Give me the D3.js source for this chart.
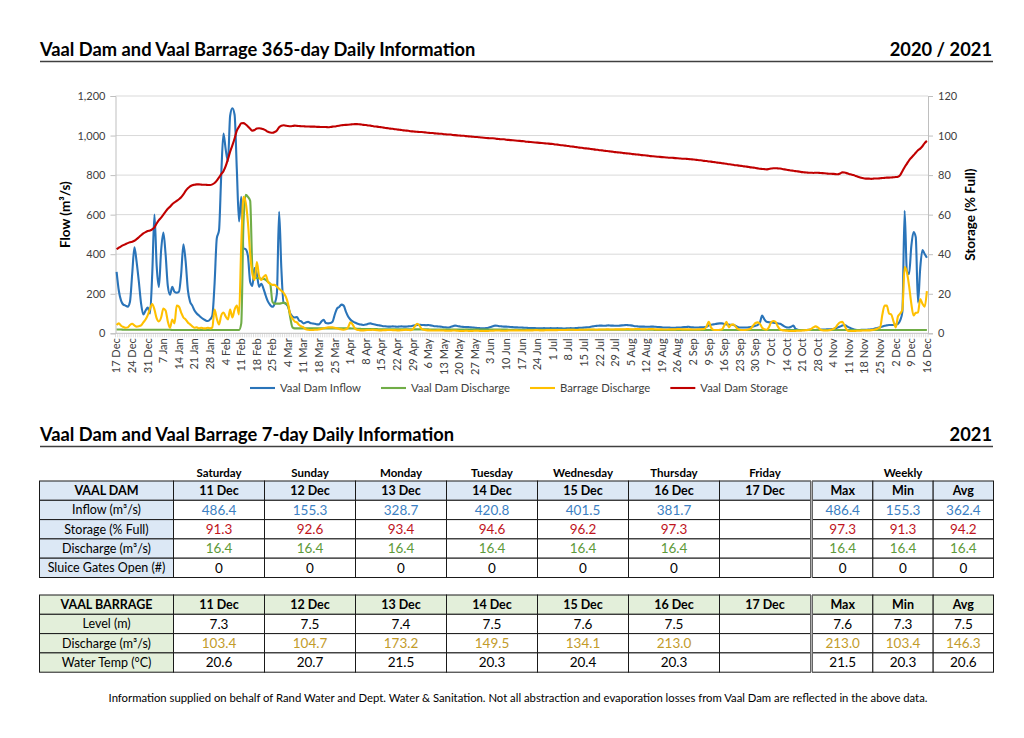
<!DOCTYPE html>
<html>
<head>
<meta charset="utf-8">
<script src="https://cdn.jsdelivr.net/npm/d3@7"></script>
<style>
    body { margin: 0; background: #fff; }
    text { font-family: Lato, "Open Sans", sans-serif; }
</style>
</head>
<body>
<div id="page"></div>
<script>
// ---------- 365-day series (17 Dec 2020 - 16 Dec 2021) ----------
const inflow = [
    // Dec 17-31
    311, 215, 165, 145, 140, 135, 160, 300, 435, 360, 260, 150, 95, 115, 130,
    // Jan
    100, 300, 600, 340, 235, 420, 510, 400, 240, 195, 235, 210, 205, 210, 300, 450, 365, 220, 160, 140, 115, 100, 90, 80, 72, 65, 62, 70, 90, 250, 480,
    // Feb
    520, 800, 1010, 930, 870, 1100, 1138, 1105, 830, 565, 690, 430, 425, 390, 260, 240, 330, 300, 235, 250, 225, 190, 160, 143, 134, 150, 200, 615,
    // Mar
    330, 155, 150, 135, 100, 85, 80, 82, 65, 60, 50, 55, 58, 52, 50, 48, 45, 45, 60, 68, 52, 50, 52, 58, 95, 125, 133, 145, 140, 110, 85,
    // Apr
    70, 60, 55, 50, 46, 44, 42, 44, 48, 50, 47, 45, 42, 40, 38, 36, 35, 34, 34, 35, 34, 33, 34, 35, 34, 34, 35, 36, 38, 40,
    // May
    42, 43, 42, 42, 41, 42, 40, 38, 36, 35, 34, 33, 31, 30, 29, 32, 36, 39, 37, 35, 33, 32, 31, 31, 30, 29, 28, 27, 26, 25, 25,
    // Jun
    26, 28, 32, 36, 39, 38, 36, 35, 34, 34, 33, 32, 31, 30, 30, 29, 29, 28, 28, 27, 27, 26, 26, 25, 25, 25, 26, 25, 25, 26,
    // Jul
    25, 25, 26, 25, 25, 24, 25, 25, 26, 25, 26, 27, 28, 28, 29, 30, 31, 33, 35, 37, 38, 39, 39, 38, 39, 40, 39, 39, 38, 38, 39,
    // Aug
    40, 41, 42, 41, 40, 38, 36, 35, 34, 34, 34, 33, 33, 34, 34, 33, 32, 31, 30, 29, 29, 29, 28, 28, 28, 29, 29, 30, 31, 32, 33,
    // Sep
    30, 30, 29, 29, 30, 30, 31, 33, 40, 43, 45, 47, 49, 50, 50, 47, 45, 44, 43, 42, 38, 32, 29, 29, 29, 29, 30, 32, 34, 38,
    // Oct
    42, 55, 90, 70, 58, 56, 55, 54, 52, 50, 48, 42, 35, 30, 29, 33, 39, 22, 18, 17, 17, 17, 17, 18, 18, 17, 17, 18, 18, 19, 19,
    // Nov
    20, 20, 21, 22, 25, 30, 34, 40, 42, 36, 30, 25, 20, 18, 17, 17, 18, 18, 18, 19, 20, 22, 25, 28, 30, 34, 38, 40, 42, 42,
    // Dec 1-16
    42, 44, 48, 65, 110, 620, 315, 300, 440, 512, 486.4, 155.3, 328.7, 420.8, 401.5, 381.7
];

const damDischarge = [
    // Dec 17-31
    19, 19, 19, 18, 18, 18, 18, 18, 18, 18, 18, 18, 18, 18, 18,
    // Jan
    18, 18, 18, 18, 18, 18, 18, 18, 18, 18, 17, 17, 17, 17, 17, 17, 17, 17, 17, 17, 17, 17, 17, 17, 17, 17, 17, 17, 17, 17, 17,
    // Feb
    17, 17, 17, 17, 17, 17, 17, 17, 17, 17, 50, 560, 700, 690, 670, 330, 285, 280, 280, 275, 275, 270, 260, 250, 160, 150, 150, 150,
    // Mar
    152, 155, 150, 140, 80, 30, 25, 25, 25, 25, 25, 25, 25, 25, 25, 25, 25, 25, 25, 25, 25, 25, 25, 25, 25, 25, 25, 25, 25, 25, 25,
    // Apr
    25, 24, 24, 23, 23, 22, 22, 22, 21, 21, 21, 21, 21, 20, 20, 20, 20, 20, 20, 20, 20, 20, 20, 20, 20, 20, 20, 20, 20, 20,
    // May
    20, 20, 20, 20, 20, 20, 19, 19, 19, 19, 19, 19, 19, 19, 19, 19, 19, 19, 19, 19, 19, 19, 19, 19, 19, 19, 19, 19, 19, 19, 19,
    // Jun
    19, 19, 19, 19, 19, 19, 19, 19, 19, 19, 18, 18, 18, 18, 18, 18, 18, 18, 18, 18, 18, 18, 18, 18, 18, 18, 18, 18, 18, 18,
    // Jul
    18, 18, 18, 18, 18, 18, 18, 18, 18, 18, 18, 18, 18, 18, 18, 18, 18, 18, 18, 18, 18, 18, 18, 18, 18, 18, 18, 18, 18, 18, 18,
    // Aug
    18, 18, 18, 18, 18, 18, 18, 18, 18, 18, 18, 18, 18, 18, 18, 17, 17, 17, 17, 17, 17, 17, 17, 17, 17, 17, 17, 17, 17, 17, 17,
    // Sep
    17, 17, 17, 17, 17, 17, 17, 17, 17, 17, 17, 17, 17, 17, 17, 17, 17, 17, 17, 17, 17, 17, 17, 17, 17, 17, 17, 17, 17, 17,
    // Oct
    17, 17, 17, 17, 17, 17, 17, 17, 17, 17, 17, 17, 17, 17, 17, 17, 17, 17, 17, 17, 17, 17, 17, 17, 17, 17, 17, 17, 17, 17, 17,
    // Nov
    17, 17, 17, 17, 17, 17, 17, 17, 17, 17, 17, 17, 17, 17, 16.4, 16.4, 16.4, 16.4, 16.4, 16.4, 16.4, 16.4, 16.4, 16.4, 16.4, 16.4, 16.4, 16.4, 16.4, 16.4,
    // Dec 1-16
    16.4, 16.4, 16.4, 16.4, 16.4, 16.4, 16.4, 16.4, 16.4, 16.4, 16.4, 16.4, 16.4, 16.4, 16.4, 16.4
];

const barrageDischarge = [
    // Dec 17-31
    42, 50, 38, 32, 28, 30, 42, 48, 40, 34, 36, 40, 55, 70, 92,
    // Jan
    125, 148, 120, 75, 60, 80, 125, 115, 60, 28, 70, 50, 140, 135, 105, 80, 70, 55, 45, 35, 28, 30, 25, 28, 25, 25, 28, 25, 30, 120, 75,
    // Feb
    45, 90, 105, 85, 70, 120, 80, 120, 140, 95, 450, 690, 660, 560, 400, 300, 270, 360, 290, 270, 285, 295, 260, 250, 245, 245, 235, 225,
    // Mar
    215, 205, 185, 150, 95, 75, 60, 55, 42, 35, 30, 20, 18, 17, 17, 18, 18, 20, 22, 25, 28, 30, 30, 30, 28, 25, 22, 20, 18, 20, 30,
    // Apr
    55, 45, 25, 18, 16, 15, 15, 16, 17, 17, 18, 17, 16, 15, 15, 16, 16, 17, 17, 16, 16, 15, 15, 16, 17, 18, 17, 16, 20, 35,
    // May
    48, 40, 22, 18, 16, 15, 15, 14, 14, 15, 15, 14, 14, 13, 13, 13, 14, 14, 13, 12, 12, 12, 13, 12, 12, 12, 13, 13, 12, 12, 12,
    // Jun
    12, 12, 13, 13, 14, 14, 14, 13, 13, 13, 14, 14, 14, 15, 15, 14, 14, 14, 15, 15, 15, 15, 16, 16, 15, 15, 15, 16, 16, 16,
    // Jul
    16, 16, 16, 17, 17, 17, 17, 18, 18, 18, 17, 17, 18, 18, 18, 18, 19, 19, 19, 18, 18, 19, 19, 19, 20, 20, 19, 19, 20, 20, 20,
    // Aug
    20, 20, 21, 21, 20, 20, 21, 21, 21, 20, 20, 20, 21, 21, 21, 20, 20, 20, 20, 19, 19, 20, 20, 20, 20, 21, 21, 20, 20, 20, 20,
    // Sep
    20, 19, 19, 20, 20, 21, 22, 35, 58, 30, 18, 17, 17, 18, 20, 40, 58, 30, 42, 45, 35, 22, 18, 17, 17, 18, 20, 25, 40, 52,
    // Oct
    55, 48, 28, 20, 18, 30, 55, 62, 58, 35, 20, 16, 14, 13, 12, 12, 12, 12, 13, 13, 14, 15, 16, 18, 22, 30, 35, 30, 20, 15, 14,
    // Nov
    14, 15, 18, 22, 30, 45, 55, 58, 40, 18, 12, 12, 12, 12, 13, 13, 14, 14, 15, 15, 16, 18, 20, 25, 30, 95, 140, 140, 100, 95,
    // Dec 1-16
    60, 30, 85, 100, 120, 335, 310, 240, 150, 90, 103.4, 104.7, 173.2, 149.5, 134.1, 213.0
];

const storage = [
    // Dec 17-31
    42.5, 43.3, 44, 44.6, 45.1, 45.6, 46, 46.3, 46.8, 47.6, 48.6, 49.6, 50.5, 51.2, 51.7,
    // Jan
    52, 52.6, 53.6, 55.5, 57.2, 58.5, 60, 61.5, 63, 64, 65.3, 66.2, 67, 67.8, 68.8, 70.2, 72, 73.3, 74.3, 74.9, 75.1, 75.3, 75.3, 75.2, 75.1, 75.1, 75, 75, 75.3, 76, 77.2,
    // Feb
    78.8, 80.5, 82, 84.5, 88, 91.8, 95, 98.5, 102.5, 104.5, 106.2, 106.3, 105.6, 104.6, 103.4, 102.5, 102.8, 103.6, 103.7, 103.5, 103.2, 102.6, 101.9, 101.5, 101.4, 101.8, 102.6, 104.2,
    // Mar
    105, 105.2, 105, 104.8, 104.7, 104.8, 105, 104.9, 104.8, 104.7, 104.7, 104.6, 104.6, 104.5, 104.5, 104.5, 104.4, 104.4, 104.3, 104.3, 104.3, 104.2, 104.3, 104.5, 104.6, 104.8, 105, 105.2, 105.3, 105.4, 105.5,
    // Apr
    105.6, 105.7, 105.8, 105.8, 105.7, 105.6, 105.4, 105.3, 105.1, 105, 104.8, 104.6, 104.5, 104.3, 104.2, 104, 103.8, 103.7, 103.5, 103.4, 103.2, 103.1, 102.9, 102.8, 102.6, 102.5, 102.4, 102.2, 102.1, 102,
    // May
    101.9, 101.8, 101.8, 101.7, 101.5, 101.4, 101.3, 101.3, 101.1, 101.0, 100.9, 100.9, 100.7, 100.6, 100.5, 100.5, 100.3, 100.2, 100.1, 100.0, 99.9, 99.9, 99.7, 99.6, 99.5, 99.4, 99.3, 99.3, 99.1, 99.0, 98.9,
    // Jun
    98.8, 98.7, 98.6, 98.6, 98.5, 98.3, 98.2, 98.1, 98.1, 97.9, 97.8, 97.7, 97.6, 97.5, 97.4, 97.3, 97.2, 97.1, 96.9, 96.8, 96.7, 96.6, 96.5, 96.4, 96.3, 96.2, 96.1, 96.0, 95.9, 95.8,
    // Jul
    95.7, 95.5, 95.4, 95.2, 95.1, 95.0, 94.8, 94.7, 94.5, 94.4, 94.2, 94.1, 93.9, 93.8, 93.6, 93.5, 93.4, 93.2, 93.1, 92.9, 92.8, 92.6, 92.5, 92.3, 92.2, 92.1, 91.9, 91.8, 91.6, 91.5, 91.4,
    // Aug
    91.3, 91.1, 91.0, 90.9, 90.8, 90.6, 90.5, 90.4, 90.3, 90.1, 90.0, 89.9, 89.8, 89.6, 89.5, 89.4, 89.3, 89.2, 89.1, 89.0, 88.9, 88.8, 88.8, 88.7, 88.6, 88.5, 88.4, 88.3, 88.3, 88.2, 88.1,
    // Sep
    88.0, 87.9, 87.8, 87.6, 87.5, 87.4, 87.2, 87.1, 86.9, 86.8, 86.6, 86.5, 86.3, 86.2, 86.0, 85.9, 85.7, 85.5, 85.4, 85.2, 85.0, 84.9, 84.7, 84.6, 84.4, 84.3, 84.1, 83.9, 83.8, 83.6,
    // Oct
    83.4, 83.2, 83.1, 83.0, 82.9, 83.1, 83.3, 83.5, 83.5, 83.4, 83.3, 83.1, 82.9, 82.7, 82.5, 82.3, 82.2, 82.0, 81.9, 81.7, 81.5, 81.4, 81.3, 81.2, 81.2, 81.1, 81.2, 81.2, 81.1, 81.0, 80.9,
    // Nov
    80.8, 80.7, 80.7, 80.6, 80.5, 80.4, 80.8, 81.4, 81.3, 81.0, 80.6, 80.3, 80.0, 79.6, 79.2, 78.8, 78.5, 78.3, 78.2, 78.2, 78.1, 78.2, 78.3, 78.3, 78.4, 78.5, 78.6, 78.7, 78.7, 78.8,
    // Dec 1-16
    78.9, 79.0, 79.2, 80.0, 82.0, 84.0, 85.7, 87.5, 88.8, 90.0, 91.3, 92.6, 93.4, 94.6, 96.2, 97.3
];

const tickLabels = [
    "17 Dec", "24 Dec", "31 Dec", "7 Jan", "14 Jan", "21 Jan", "28 Jan", "4 Feb", "11 Feb", "18 Feb",
    "25 Feb", "4 Mar", "11 Mar", "18 Mar", "25 Mar", "1 Apr", "8 Apr", "15 Apr", "22 Apr", "29 Apr",
    "6 May", "13 May", "20 May", "27 May", "3 Jun", "10 Jun", "17 Jun", "24 Jun", "1 Jul", "8 Jul",
    "15 Jul", "22 Jul", "29 Jul", "5 Aug", "12 Aug", "19 Aug", "26 Aug", "2 Sep", "9 Sep", "16 Sep",
    "23 Sep", "30 Sep", "7 Oct", "14 Oct", "21 Oct", "28 Oct", "4 Nov", "11 Nov", "18 Nov", "25 Nov",
    "2 Dec", "9 Dec", "16 Dec"
];
const flowTicks = [0, 200, 400, 600, 800, 1000, 1200];
const storageTicks = [0, 20, 40, 60, 80, 100, 120];

// ---------- 7-day tables ----------
const dayNames = ["Saturday", "Sunday", "Monday", "Tuesday", "Wednesday", "Thursday", "Friday"];
const dayDates = ["11 Dec", "12 Dec", "13 Dec", "14 Dec", "15 Dec", "16 Dec", "17 Dec"];
const weeklyHeads = ["Max", "Min", "Avg"];

const damLabels = ["Inflow (m³/s)", "Storage (% Full)", "Discharge (m³/s)", "Sluice Gates Open (#)"];
const damInflow = ["486.4", "155.3", "328.7", "420.8", "401.5", "381.7", "", "486.4", "155.3", "362.4"];
const damStorage = ["91.3", "92.6", "93.4", "94.6", "96.2", "97.3", "", "97.3", "91.3", "94.2"];
const damOut = ["16.4", "16.4", "16.4", "16.4", "16.4", "16.4", "", "16.4", "16.4", "16.4"];
const damGates = ["0", "0", "0", "0", "0", "0", "", "0", "0", "0"];

const barrageLabels = ["Level (m)", "Discharge (m³/s)", "Water Temp (°C)"];
const barrageLevel = ["7.3", "7.5", "7.4", "7.5", "7.6", "7.5", "", "7.6", "7.3", "7.5"];
const barrageOut = ["103.4", "104.7", "173.2", "149.5", "134.1", "213.0", "", "213.0", "103.4", "146.3"];
const barrageTemp = ["20.6", "20.7", "21.5", "20.3", "20.4", "20.3", "", "21.5", "20.3", "20.6"];

// ---------- Setup ----------
const width = 1024;
const height = 738;
const blue = "#2a74b9";
const green = "#70ad47";
const gold = "#ffc000";
const red = "#c00000";

const svg = d3
    .select("#page")
    .append("svg")
    .attr("width", width)
    .attr("height", height);

// Section header with underline
function sectionHeader(y, title, right) {
    svg.append("text")
        .attr("x", 40)
        .attr("y", y)
        .style("font-size", "18.3px")
        .style("font-weight", "bold")
        .text(title);
    svg.append("text")
        .attr("x", 992)
        .attr("y", y)
        .attr("text-anchor", "end")
        .style("font-size", "18.3px")
        .style("font-weight", "bold")
        .text(right);
    svg.append("line")
        .attr("x1", 40)
        .attr("x2", 993)
        .attr("y1", y + 5.5)
        .attr("y2", y + 5.5)
        .attr("stroke", "#404040")
        .attr("stroke-width", 1.3);
}

sectionHeader(56, "Vaal Dam and Vaal Barrage 365-day Daily Information", "2020 / 2021");
sectionHeader(441, "Vaal Dam and Vaal Barrage 7-day Daily Information", "2021");

// ---------- Chart ----------
const plot = { left: 115.5, right: 928, top: 96, bottom: 333.3 };

const x = d3
    .scaleBand()
    .domain(d3.range(inflow.length))
    .range([plot.left, plot.right]);
const xc = (i) => x(i) + x.bandwidth() / 2;

const yFlow = d3.scaleLinear().domain([0, 1200]).range([plot.bottom, plot.top]);
const yStore = d3.scaleLinear().domain([0, 120]).range([plot.bottom, plot.top]);

const chart = svg.append("g");

// Gridlines
chart.append("g")
    .selectAll("line")
    .data(flowTicks.slice(1))
    .enter()
    .append("line")
    .attr("x1", plot.left)
    .attr("x2", plot.right)
    .attr("y1", (d) => yFlow(d))
    .attr("y2", (d) => yFlow(d))
    .attr("stroke", "#d9d9d9")
    .attr("stroke-width", 1);

// Left / right axes
const leftAxis = chart
    .append("g")
    .attr("transform", `translate(${plot.left},0)`)
    .call(d3.axisLeft(yFlow).tickValues(flowTicks).tickFormat(d3.format(",")).tickSize(5).tickPadding(5));

const rightAxis = chart
    .append("g")
    .attr("transform", `translate(${plot.right},0)`)
    .call(d3.axisRight(yStore).tickValues(storageTicks).tickSize(5).tickPadding(5));

[leftAxis, rightAxis].forEach((g) => {
    g.select(".domain").attr("stroke", "#bfbfbf");
    g.selectAll(".tick line").attr("stroke", "#bfbfbf");
    g.selectAll(".tick text")
        .attr("fill", "#404040")
        .style("font-size", "11px")
        .style("font-family", "Lato");
});

// Category axis: base line, daily minor ticks, weekly rotated labels
chart.append("line")
    .attr("x1", plot.left)
    .attr("x2", plot.right)
    .attr("y1", plot.bottom)
    .attr("y2", plot.bottom)
    .attr("stroke", "#bfbfbf");

chart.append("g")
    .selectAll("line")
    .data(d3.range(inflow.length + 1))
    .enter()
    .append("line")
    .attr("x1", (d) => plot.left + d * x.step())
    .attr("x2", (d) => plot.left + d * x.step())
    .attr("y1", plot.bottom)
    .attr("y2", plot.bottom + 4)
    .attr("stroke", "#c8c8c8")
    .attr("stroke-width", 0.6);

chart.append("g")
    .selectAll("text")
    .data(tickLabels)
    .enter()
    .append("text")
    .attr("transform", (d, k) => `translate(${xc(k * 7)},${plot.bottom + 5}) rotate(-90)`)
    .attr("text-anchor", "end")
    .attr("dy", "0.35em")
    .attr("fill", "#404040")
    .style("font-size", "11px")
    .text((d) => d);

// Axis titles
chart.append("text")
    .attr("transform", `translate(70,${(plot.top + plot.bottom) / 2}) rotate(-90)`)
    .attr("text-anchor", "middle")
    .style("font-size", "13.5px")
    .style("font-weight", "bold")
    .text("Flow (m³/s)");

chart.append("text")
    .attr("transform", `translate(975,${(plot.top + plot.bottom) / 2}) rotate(-90)`)
    .attr("text-anchor", "middle")
    .style("font-size", "13.5px")
    .style("font-weight", "bold")
    .text("Storage (% Full)");

// Series lines
const flowLine = d3
    .line()
    .x((d, i) => xc(i))
    .y((d) => yFlow(d))
    .curve(d3.curveMonotoneX);

const storeLine = d3
    .line()
    .x((d, i) => xc(i))
    .y((d) => yStore(d))
    .curve(d3.curveMonotoneX);

const series = [
    { name: "Vaal Dam Inflow", values: inflow, color: blue, line: flowLine },
    { name: "Vaal Dam Discharge", values: damDischarge, color: green, line: flowLine },
    { name: "Barrage Discharge", values: barrageDischarge, color: gold, line: flowLine },
    { name: "Vaal Dam Storage", values: storage, color: red, line: storeLine }
];

chart.selectAll(".series")
    .data(series)
    .enter()
    .append("path")
    .attr("class", "series")
    .attr("d", (d) => d.line(d.values))
    .attr("fill", "none")
    .attr("stroke", (d) => d.color)
    .attr("stroke-width", 2.1)
    .attr("stroke-linejoin", "round");

// Legend
const legend = chart.append("g").attr("transform", "translate(250,388)");
let lx = 0;
series.forEach((s) => {
    const item = legend.append("g").attr("transform", `translate(${lx},0)`);
    item.append("line")
        .attr("x1", 0)
        .attr("x2", 25)
        .attr("stroke", s.color)
        .attr("stroke-width", 2.1);
    const t = item.append("text")
        .attr("x", 30)
        .attr("dy", "0.35em")
        .attr("fill", "#404040")
        .style("font-size", "11.3px")
        .text(s.name);
    lx += 30 + t.node().getComputedTextLength() + 20;
});

// ---------- Tables ----------
const labelCol = [39.5, 173.5];
const dayX = d3.scaleBand().domain(dayDates).range([173.5, 810.5]);
const weekX = d3.scaleBand().domain(weeklyHeads).range([812.5, 993.5]);
const rowH = 19.3;

// Cell x-extents for the 10 value columns
const valueCols = dayDates
    .map((d) => [dayX(d), dayX(d) + dayX.bandwidth()])
    .concat(weeklyHeads.map((d) => [weekX(d), weekX(d) + weekX.bandwidth()]));

// Day names above the first table
svg.append("g")
    .selectAll("text")
    .data(dayNames)
    .enter()
    .append("text")
    .attr("x", (d, i) => dayX(dayDates[i]) + dayX.bandwidth() / 2)
    .attr("y", 473)
    .attr("dy", "0.35em")
    .attr("text-anchor", "middle")
    .style("font-size", "11.5px")
    .style("font-weight", "bold")
    .text((d) => d);

svg.append("text")
    .attr("x", 903)
    .attr("y", 473)
    .attr("dy", "0.35em")
    .attr("text-anchor", "middle")
    .style("font-size", "11.5px")
    .style("font-weight", "bold")
    .text("Weekly");

function drawTable(top, title, labels, rows, colors, fill) {
    const allRows = [{ label: title, values: dayDates.concat(weeklyHeads), color: "#000", head: true }]
        .concat(labels.map((l, i) => ({ label: l, values: rows[i], color: colors[i], head: false })));
    const y = d3.scaleBand().domain(d3.range(allRows.length)).range([top, top + allRows.length * rowH]);
    const g = svg.append("g");

    allRows.forEach((r, ri) => {
        const yy = y(ri);
        // label cell
        g.append("rect")
            .attr("x", labelCol[0])
            .attr("y", yy)
            .attr("width", labelCol[1] - labelCol[0])
            .attr("height", rowH)
            .attr("fill", fill)
            .attr("stroke", "#1a1a1a")
            .attr("stroke-width", 1);
        g.append("text")
            .attr("x", (labelCol[0] + labelCol[1]) / 2)
            .attr("y", yy + rowH / 2)
            .attr("dy", "0.36em")
            .attr("text-anchor", "middle")
            .style("font-size", "12.5px")
            .style("font-weight", r.head ? "bold" : "normal")
            .text(r.label);

        valueCols.forEach((c, ci) => {
            g.append("rect")
                .attr("x", c[0])
                .attr("y", yy)
                .attr("width", c[1] - c[0])
                .attr("height", rowH)
                .attr("fill", r.head ? fill : "#fff")
                .attr("stroke", "#1a1a1a")
                .attr("stroke-width", 1);
            g.append("text")
                .attr("x", (c[0] + c[1]) / 2)
                .attr("y", yy + rowH / 2)
                .attr("dy", "0.36em")
                .attr("text-anchor", "middle")
                .attr("fill", r.color)
                .style("font-size", r.head ? "12.5px" : "13.5px")
                .style("font-weight", r.head ? "bold" : "normal")
                .text(r.values[ci]);
        });
    });

    // double rule between daily and weekly columns
    g.append("rect")
        .attr("x", 810.5)
        .attr("y", top)
        .attr("width", 2)
        .attr("height", allRows.length * rowH)
        .attr("fill", "#b0b0b0");
}

drawTable(481, "VAAL DAM", damLabels,
    [damInflow, damStorage, damOut, damGates],
    ["#3c7fc3", "#c0141c", "#5e9a3a", "#000"], "#dce8f5");

drawTable(595, "VAAL BARRAGE", barrageLabels,
    [barrageLevel, barrageOut, barrageTemp],
    ["#000", "#c29b2a", "#000"], "#e3efda");

// Footnote
svg.append("text")
    .attr("x", 518)
    .attr("y", 698)
    .attr("dy", "0.35em")
    .attr("text-anchor", "middle")
    .style("font-size", "11.3px")
    .text("Information supplied on behalf of Rand Water and Dept. Water & Sanitation. Not all abstraction and evaporation losses from Vaal Dam are reflected in the above data.");
</script>
</body>
</html>
